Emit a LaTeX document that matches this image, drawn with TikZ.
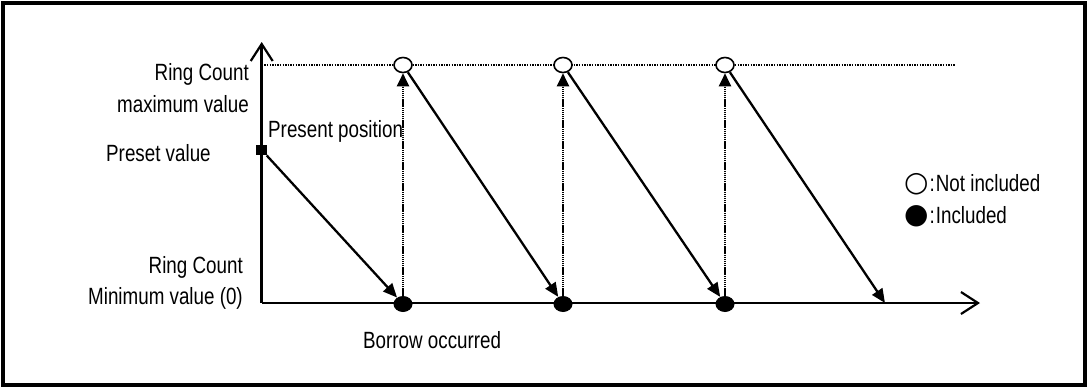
\documentclass[tikz,border=0pt]{standalone}
\usepackage{fontspec}
\setmainfont{Liberation Sans}[FakeStretch=0.8]
\newfontfamily\symfont{DejaVu Sans}
\usetikzlibrary{arrows.meta,shapes.geometric}
\pgfdeclarelayer{bg}
\pgfsetlayers{bg,main}
\begin{document}
\begin{tikzpicture}[x=1pt,y=-1pt,
  frame/.style={line width=3.5pt},
  axisline/.style={line width=2.5pt,-{Straight Barb[length=17pt,width=22pt,line width=2.2pt]}},
  maxline/.style={line width=1.2pt,dash pattern=on 1.4pt off 1.2pt},
  diag/.style={line width=2.3pt,-{Triangle[length=14pt,width=12pt]}},
  rise/.style={line width=2pt,dash pattern=on 1.4pt off 0.7pt,-{Triangle[length=13pt,width=12pt]}},
  openpt/.style={ellipse,draw,fill=white,line width=1.6pt,minimum width=18pt,minimum height=15pt,inner sep=0pt},
  fullpt/.style={ellipse,fill=black,minimum width=19pt,minimum height=16pt,inner sep=0pt},
  sq/.style={rectangle,fill=black,minimum size=10.5pt,inner sep=0pt},
  lbl/.style={inner sep=0pt,font=\fontsize{23.5}{27}\selectfont},
  legsym/.style={}
]
\useasboundingbox (0,0) rectangle (1088,389);
\draw[frame] (3,3) rectangle (1085,385);

% points
\node[sq] (pre) at (261.7,150) {};
\node[fullpt] (b1) at (403,304) {};
\node[fullpt] (b2) at (563,304) {};
\node[fullpt] (b3) at (725,304) {};
\node[openpt] (t1) at (403,65) {};
\node[openpt] (t2) at (563,65) {};
\node[openpt] (t3) at (725,65) {};
\coordinate (O) at (261.7,303);
\coordinate (ytop) at (261.7,42);
\coordinate (xend) at (980,303);
\coordinate (mstart) at (261.7,65);
\coordinate (mend) at (955,65);
\coordinate (last) at (885,303);

\begin{pgfonlayer}{bg}
\draw[axisline] (O) -- (ytop);
\draw[axisline] (O) -- (xend);
\draw[maxline] (mstart) -- (mend);
\end{pgfonlayer}

\draw[diag] (pre) -- (b1);
\draw[rise] (b1) -- (t1);
\draw[diag] (t1) -- (b2);
\draw[rise] (b2) -- (t2);
\draw[diag] (t2) -- (b3);
\draw[rise] (b3) -- (t3);
\draw[diag] (t3) -- (last);

% labels
\node[lbl,anchor=base east] (rcmax1) at (249,80) {Ring Count};
\node[lbl,anchor=base east] (rcmax2) at (249,112) {maximum value};
\node[lbl,anchor=base west] (preset) at (106,161) {Preset value};
\node[lbl,anchor=base west] (present) at (268,137) {Present position};
\node[lbl,anchor=base east] (rcmin1) at (243,273) {Ring Count};
\node[lbl,anchor=base east] (rcmin2) at (243,304) {Minimum value (0)};
\node[lbl,anchor=base west] (borrow) at (363,348) {Borrow occurred};
\node[lbl,anchor=base west] (leg1) at (904,191) {{\symfont\fontsize{28}{28}\selectfont ○}\kern1pt:\kern1pt Not included};
\node[lbl,anchor=base west] (leg2) at (904,223) {{\symfont\fontsize{28}{28}\selectfont ●}\kern1pt:\kern1pt Included};
\end{tikzpicture}
\end{document}
